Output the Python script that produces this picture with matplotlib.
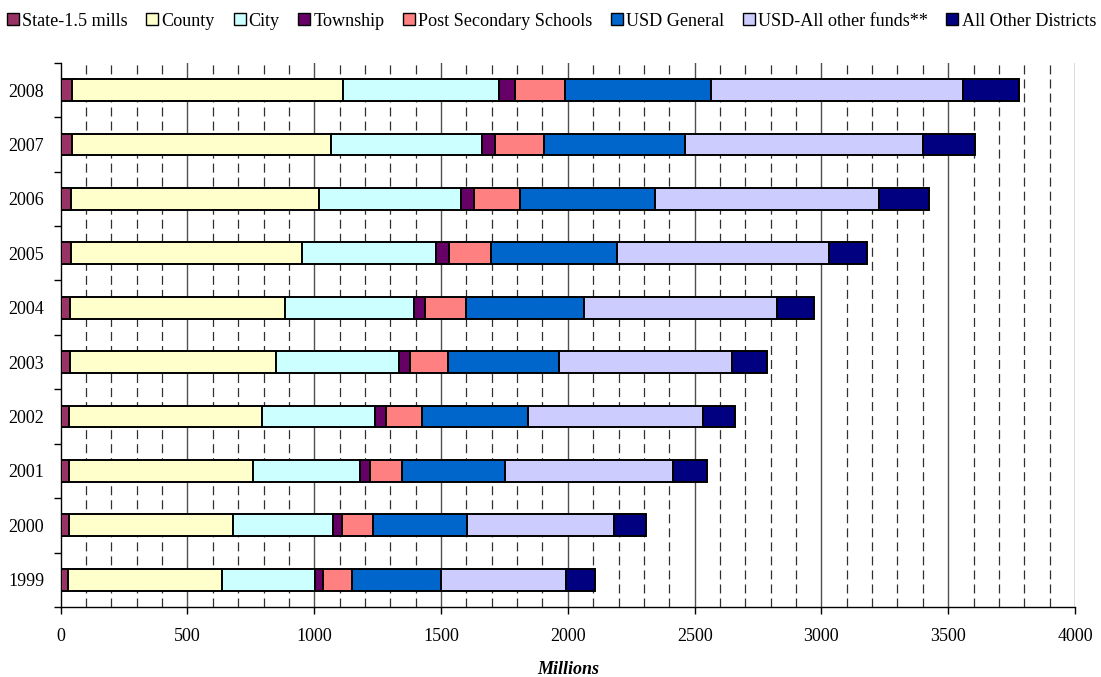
import matplotlib
matplotlib.use("Agg")
import matplotlib.pyplot as plt
from matplotlib.lines import Line2D
import numpy as np

years = ["1999", "2000", "2001", "2002", "2003", "2004", "2005", "2006", "2007", "2008"]
series_names = ["State-1.5 mills", "County", "City", "Township", "Post Secondary Schools",
                "USD General", "USD-All other funds**", "All Other Districts"]
state = [30, 31, 34, 34, 35, 37, 39, 42, 45, 45]
county = [607, 648, 725, 758, 813, 848, 912, 978, 1021, 1070]
city = [364, 394, 420, 446, 486, 507, 531, 560, 595, 613]
township = [34, 37, 42, 44, 45, 45, 49, 50, 53, 64]
postsec = [113, 121, 123, 143, 149, 162, 166, 180, 190, 197]
usd_general = [352, 373, 408, 417, 437, 466, 497, 534, 557, 574]
usd_other = [494, 578, 662, 692, 683, 760, 834, 885, 939, 996]
other_districts = [114, 128, 135, 124, 138, 145, 153, 197, 205, 219]
colors = ["#993366", "#FFFFCC", "#CCFFFF", "#660066", "#FF8080", "#0066CC", "#CCCCFF", "#000080"]

data = [state, county, city, township, postsec, usd_general, usd_other, other_districts]

plt.rcParams['font.family'] = ['Liberation Serif', 'DejaVu Serif']
plt.rcParams['lines.scale_dashes'] = False

fig = plt.figure(figsize=(11.01, 6.77), dpi=100)
ax = fig.add_axes([60.7 / 1101, 1 - 607 / 677, (1075 - 60.7) / 1101, (607 - 62.8) / 677])

y = np.arange(len(years))
left = np.zeros(len(years))
for vals, c, name in zip(data, colors, series_names):
    ax.barh(y, vals, left=left, height=0.4, color=c, edgecolor="black", linewidth=1.4,
            label=name, zorder=3)
    left += np.array(vals)

ax.set_xlim(0, 4000)
ax.set_ylim(-0.5, len(years) - 0.5)

# gridlines
for v in range(100, 4001, 100):
    if v % 500 == 0:
        ax.axvline(v, color="#505050", linewidth=1.0, zorder=1)
    else:
        ax.axvline(v, color="#303030", linewidth=0.9, linestyle=(0, (6.5, 3.6)), zorder=1)

ax.set_xticks(range(0, 4001, 500))
ax.set_xticklabels([str(v) for v in range(0, 4001, 500)])
ax.set_yticks(y)
ax.set_yticklabels(years)
ax.set_yticks(np.arange(-0.5, len(years), 1.0), minor=True)
ax.tick_params(axis="y", which="major", length=0, labelsize=13, pad=12)
ax.tick_params(axis="y", which="minor", length=5, width=1, direction="out")
ax.tick_params(axis="x", which="major", length=5, width=1, direction="out", labelsize=13, pad=10)

for s in ["top", "right"]:
    ax.spines[s].set_visible(False)
ax.spines["left"].set_linewidth(1.0)
ax.spines["bottom"].set_linewidth(1.0)

ax.set_xlabel("Millions", fontsize=13, fontweight="bold", fontstyle="italic", labelpad=12)

handles = [Line2D([0], [0], marker="s", linestyle="none", markersize=8.5,
                  markerfacecolor=c, markeredgecolor="black", markeredgewidth=1.0)
           for c in colors]
fig.legend(handles, series_names, loc="center", bbox_to_anchor=(550 / 1101, 1 - 21 / 677),
           ncol=8, frameon=False, fontsize=13.1, handletextpad=0.0, columnspacing=0.85,
           handlelength=1.0, borderaxespad=0, borderpad=0)

fig.savefig("out.png", dpi=100)
